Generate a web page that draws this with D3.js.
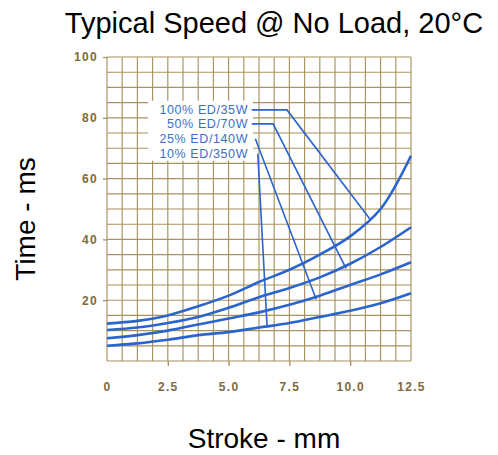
<!DOCTYPE html>
<html><head><meta charset="utf-8">
<script src="https://cdn.jsdelivr.net/npm/d3@7"></script>
<style>body{margin:0;background:#fff}svg{display:block}</style>
</head><body>
<svg id="c" width="498" height="455"></svg>
<script>
// Data
const strokeMM = [0, 1.25, 2.5, 3.75, 5, 6.25, 7.5, 8.75, 10, 11.25, 12.5];
const ed100 = [12.3, 13.2, 15, 18, 21.5, 26, 30, 35, 41, 50, 67.5];
const ed50  = [10.2, 11, 12.5, 14.5, 17.5, 21, 24, 27.5, 32, 37.5, 44];
const ed25  = [7.5, 8.5, 10, 12, 14, 16, 18.5, 21.5, 25, 28.5, 32.5];
const ed10  = [5, 5.8, 7, 8.5, 9.5, 11, 12.5, 14.5, 16.5, 19, 22.3];
const seriesLabels = ["100% ED/35W", "50% ED/70W", "25% ED/140W", "10% ED/350W"];
const labelValues = [82.6, 78, 73.1, 68.2];
const leader100 = [[5.95, 82.6], [7.4, 82.6], [10.8, 46.8]];
const leader50  = [[5.95, 78], [6.83, 78], [9.83, 30.5]];
const leader25  = [[6.1, 73.1], [8.6, 20.3]];
const leader10  = [[6.2, 68.2], [6.58, 11.8]];
const xTicks = [0, 2.5, 5.0, 7.5, 10.0, 12.5];
const xTickLabels = ["0", "2.5", "5.0", "7.5", "10.0", "12.5"];
const yTicks = [20, 40, 60, 80, 100];

const svg = d3.select("#c");
const x = d3.scaleLinear().domain([0, 12.5]).range([107, 411]);
const y = d3.scaleLinear().domain([0, 100]).range([361, 57]);
const blue = "#2a64cc";
const gridC = "#a8925f";

// grid
const g = svg.append("g");
g.selectAll("line.v").data(d3.range(0, 12.5001, 0.625)).join("line")
  .attr("x1", d => x(d)).attr("x2", d => x(d)).attr("y1", y(0)).attr("y2", y(100))
  .attr("stroke", gridC).attr("stroke-width", 1.15);
g.selectAll("line.h").data(d3.range(0, 100.001, 5)).join("line")
  .attr("y1", d => y(d)).attr("y2", d => y(d)).attr("x1", x(0)).attr("x2", x(12.5))
  .attr("stroke", gridC).attr("stroke-width", 1.15);

// axes
const yAxis = d3.axisLeft(y).tickValues(yTicks).tickSize(4).tickPadding(5).tickFormat(d3.format("d"));
const ya = svg.append("g").attr("transform", `translate(${x(0)},0)`).call(yAxis);
const xAxis = d3.axisBottom(x).tickValues(xTicks).tickSize(5).tickPadding(16).tickFormat((d, i) => xTickLabels[i]);
const xa = svg.append("g").attr("transform", `translate(0,${y(0)})`).call(xAxis);
[ya, xa].forEach(a => {
  a.select(".domain").remove();
  a.selectAll(".tick line").attr("stroke", gridC).attr("stroke-width", 1.3);
  a.selectAll(".tick text").attr("fill", "#7e6a3c").attr("font-family", "Liberation Sans, Arial, sans-serif")
    .attr("font-size", 12).attr("font-weight", "bold").attr("letter-spacing", "1.3px");
});
xa.selectAll(".tick").filter(d => d === 0 || d === 12.5).select("line").remove();

// label box
svg.append("rect").attr("x", x(1.69)).attr("y", y(85.6))
  .attr("width", x(6.0) - x(1.69)).attr("height", y(65.9) - y(85.6)).attr("fill", "#fff");

// curves
const line = d3.line().x(d => x(d[0])).y(d => y(d[1])).curve(d3.curveCatmullRom.alpha(0.5));
[ed100, ed50, ed25, ed10].forEach(s => {
  svg.append("path").attr("d", line(strokeMM.map((m, i) => [m, s[i]])))
    .attr("fill", "none").attr("stroke", blue).attr("stroke-width", 2.6);
});
const lline = d3.line().x(d => x(d[0])).y(d => y(d[1]));
[leader100, leader50, leader25, leader10].forEach(p => {
  svg.append("path").attr("d", lline(p)).attr("fill", "none").attr("stroke", blue).attr("stroke-width", 1.6);
});

// labels
svg.selectAll("text.lab").data(seriesLabels).join("text")
  .attr("x", x(5.8)).attr("y", (d, i) => y(labelValues[i]) + 4.5)
  .attr("text-anchor", "end").attr("fill", "#3a6fc8")
  .attr("font-family", "Liberation Sans, Arial, sans-serif").attr("font-size", 12.5)
  .attr("letter-spacing", "0.6px").text(d => d);

// titles
const font = "Liberation Sans, Arial, sans-serif";
svg.append("text").attr("x", 274).attr("y", 33).attr("text-anchor", "middle")
  .attr("font-family", font).attr("font-size", 29).attr("fill", "#000").text("Typical Speed @ No Load, 20°C");
svg.append("text").attr("x", 264).attr("y", 448).attr("text-anchor", "middle")
  .attr("font-family", font).attr("font-size", 28).attr("fill", "#000").text("Stroke - mm");
svg.append("text").attr("transform", "translate(35,219) rotate(-90)").attr("text-anchor", "middle")
  .attr("font-family", font).attr("font-size", 28).attr("fill", "#000").text("Time - ms");
</script>
</body></html>
